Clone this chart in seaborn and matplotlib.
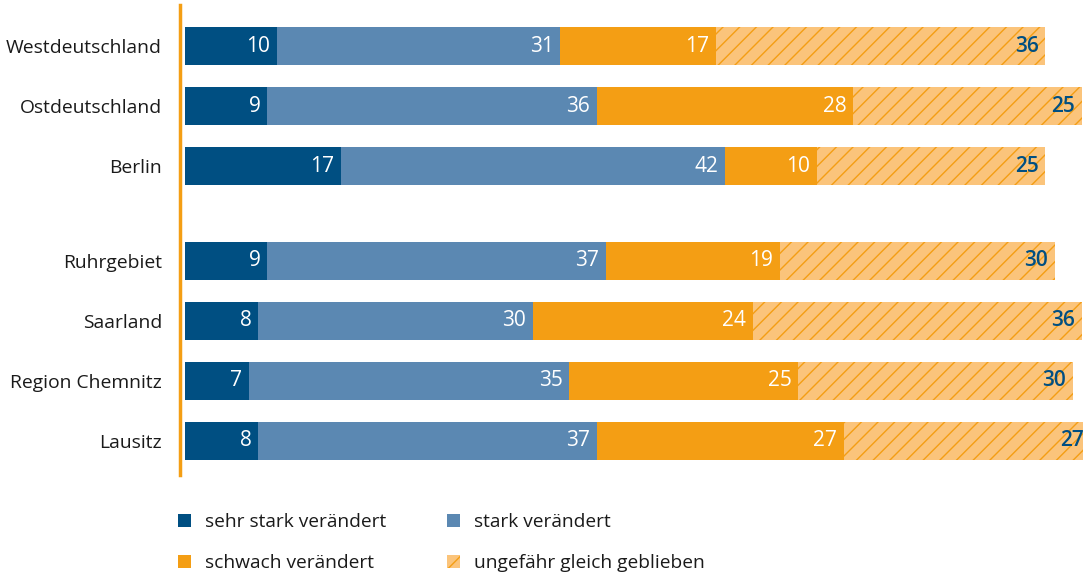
import numpy as np
import matplotlib
matplotlib.use("Agg")
import matplotlib.pyplot as plt
import seaborn as sns
from matplotlib.patches import Patch

# =====================================================
# DATA
# =====================================================

regions = ["Westdeutschland", "Ostdeutschland", "Berlin",
           "Ruhrgebiet", "Saarland", "Region Chemnitz", "Lausitz"]
sehr_stark = [10, 9, 17, 9, 8, 7, 8]
stark = [31, 36, 42, 37, 30, 35, 37]
schwach = [17, 28, 10, 19, 24, 25, 27]
gleich = [36, 25, 25, 30, 36, 30, 27]

series_labels = ["sehr stark verändert", "stark verändert",
                 "schwach verändert", "ungefähr gleich geblieben"]

# colours
DARK_BLUE = "#004F82"
LIGHT_BLUE = "#5B88B2"
ORANGE = "#F49E14"
LIGHT_ORANGE = "#FBC47B"

# =====================================================
# LAYOUT
# =====================================================

plt.rcParams["font.family"] = ["Open Sans", "DejaVu Sans"]
plt.rcParams["hatch.linewidth"] = 1.0
FS_TICK = 13.9
FS_VAL = 15
FS_LEG = 13.8

# a gap between the first three rows and the rest
idx = np.arange(len(regions))
row_pos = idx + np.where(idx >= 3, 0.57, 0.0)

fig = plt.figure(figsize=(10.83, 5.73), dpi=100)
W, H = 1083, 573
ax = fig.add_axes([180 / W, 1 - 475 / H, 903 / W, 470 / H])

# =====================================================
# STACKED BARS (drawn back to front as cumulative sums)
# =====================================================

layers = [sehr_stark, stark, schwach, gleich]
cums = np.cumsum(np.array(layers), axis=0)

bar_kw = dict(orient="y", native_scale=True, width=0.63,
              saturation=1, errorbar=None, ax=ax)

sns.barplot(x=cums[3], y=row_pos, color=LIGHT_ORANGE,
            edgecolor=ORANGE, linewidth=0, hatch="//", **bar_kw)
sns.barplot(x=cums[2], y=row_pos, color=ORANGE, linewidth=0, **bar_kw)
sns.barplot(x=cums[1], y=row_pos, color=LIGHT_BLUE, linewidth=0, **bar_kw)
sns.barplot(x=cums[0], y=row_pos, color=DARK_BLUE, linewidth=0, **bar_kw)

# value labels at the right end of each segment
for k, layer in enumerate(layers):
    col = DARK_BLUE if k == 3 else "white"
    wt = "semibold" if k == 3 else "medium"
    for i, v in enumerate(layer):
        ax.text(cums[k][i] - 0.75, row_pos[i], str(v), ha="right",
                va="center", color=col, fontsize=FS_VAL, fontweight=wt)

# =====================================================
# AXES STYLE
# =====================================================

ax.set_xlim(-0.55, 98.1)
ax.set_ylim(row_pos[-1] + 0.567, -0.683)
ax.set_xlabel("")
ax.set_ylabel("")
ax.set_xticks([])
ax.set_yticks(row_pos)
ax.set_yticklabels(regions, fontsize=FS_TICK, color="#1a1a1a")
ax.tick_params(axis="y", length=0, pad=13)

for s in ["top", "right", "bottom"]:
    ax.spines[s].set_visible(False)
ax.spines["left"].set_color(ORANGE)
ax.spines["left"].set_linewidth(2.5)

# =====================================================
# LEGEND (two columns placed by hand)
# =====================================================

handles = [
    Patch(facecolor=DARK_BLUE, linewidth=0),
    Patch(facecolor=LIGHT_BLUE, linewidth=0),
    Patch(facecolor=ORANGE, linewidth=0),
    Patch(facecolor=LIGHT_ORANGE, edgecolor=ORANGE, linewidth=0, hatch="//"),
]

leg_kw = dict(loc="upper left", frameon=False, fontsize=FS_LEG, borderpad=0,
              borderaxespad=0, handlelength=0.68, handleheight=0.68,
              handletextpad=0.72, labelspacing=1.2, labelcolor="#1a1a1a")

fig.legend([handles[0], handles[2]], [series_labels[0], series_labels[2]],
           bbox_to_anchor=(178 / W, 1 - 513 / H), **leg_kw)
fig.legend([handles[1], handles[3]], [series_labels[1], series_labels[3]],
           bbox_to_anchor=(447 / W, 1 - 513 / H), **leg_kw)

fig.savefig("out.png", dpi=100)
plt.close(fig)
